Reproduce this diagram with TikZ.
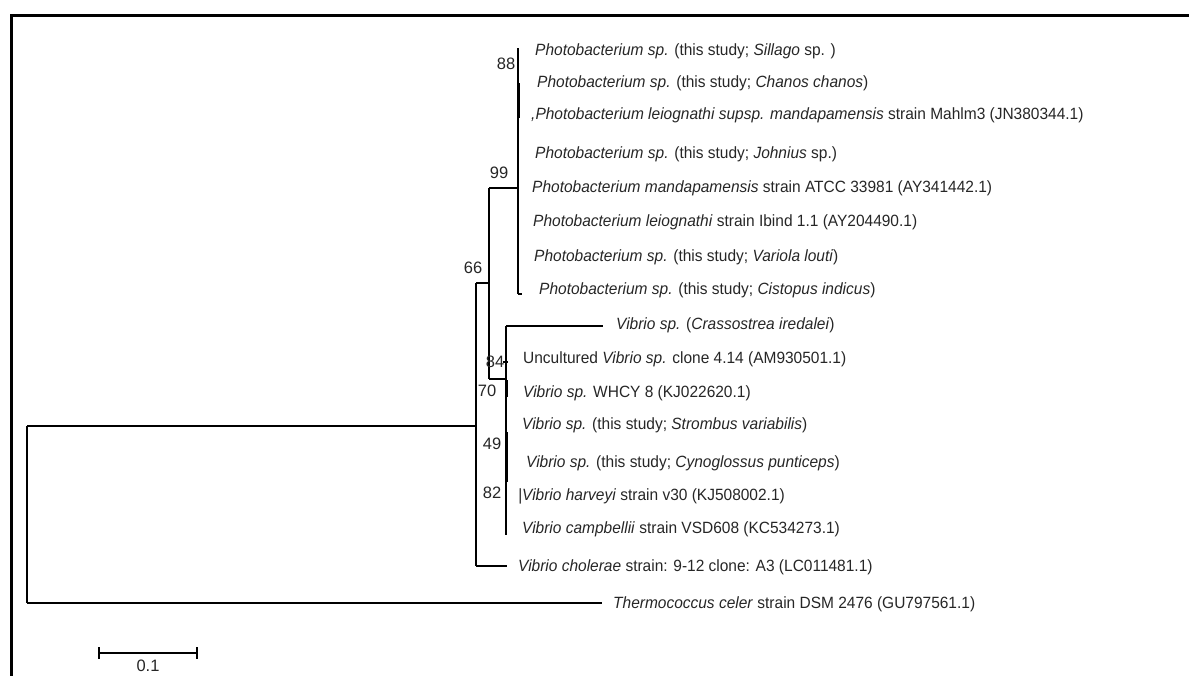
\documentclass[tikz,border=0pt]{standalone}
\usepackage{fontspec}
\newfontfamily\labfont[FakeStretch=0.95]{Liberation Sans}
\newfontfamily\numfont{Liberation Sans}
\tikzset{
  branch/.style={line width=1.3pt, black},
  thick branch/.style={line width=3pt, black},
  frameline/.style={line width=3pt, black},
  leaf/.style={anchor=west, inner sep=0pt, font=\labfont\fontsize{16.3}{18}\selectfont, text height=12pt, text depth=3.5pt, text=black!85},
  boot/.style={anchor=center, inner sep=0pt, font=\numfont\fontsize{16.5}{19}\selectfont, text=black!85},
}
\begin{document}
\begin{tikzpicture}[x=1pt,y=-1pt]
\useasboundingbox (0,0) rectangle (1189,675);
% frame
\coordinate (f1) at (11,680);
\coordinate (f2) at (11,15);
\coordinate (f3) at (1195,15);
\draw[frameline] (f1) -- (f2) -- (f3);

% internal nodes
\coordinate (root-t) at (27,426);
\coordinate (root-b) at (27,603);
\coordinate (n66-t) at (476,283);
\coordinate (n66-m) at (476,426);
\coordinate (n66-b) at (476,566);
\coordinate (n1-t) at (489,188);
\coordinate (n1-m) at (489,283);
\coordinate (n1-b) at (489,379);
\coordinate (ph-t) at (518,48);
\coordinate (ph-m) at (518,188);
\coordinate (ph-b) at (518,294);
\coordinate (vb-t) at (506,326);
\coordinate (vb-m) at (506,379);
\coordinate (vb-b) at (506,535);

% leaves
\node[leaf] (l1) at (535,51) {\textit{Photobacterium sp.} (this study; \textit{Sillago} sp. )};
\node[leaf] (l2) at (537,83) {\textit{Photobacterium sp.} (this study; \textit{Chanos chanos})};
\node[leaf] (l3) at (531,115) {\textit{,Photobacterium leiognathi supsp. mandapamensis} strain Mahlm3 (JN380344.1)};
\node[leaf] (l4) at (535,154) {\textit{Photobacterium sp.} (this study; \textit{Johnius} sp.)};
\node[leaf] (l5) at (532,188) {\textit{Photobacterium mandapamensis} strain ATCC 33981 (AY341442.1)};
\node[leaf] (l6) at (533,222) {\textit{Photobacterium leiognathi} strain Ibind 1.1 (AY204490.1)};
\node[leaf] (l7) at (534,257) {\textit{Photobacterium sp.} (this study; \textit{Variola louti})};
\node[leaf] (l8) at (539,290) {\textit{Photobacterium sp.} (this study; \textit{Cistopus indicus})};
\node[leaf] (l9) at (616,325) {\textit{Vibrio sp.} (\textit{Crassostrea iredalei})};
\node[leaf] (l10) at (523,359) {Uncultured \textit{Vibrio sp.} clone 4.14 (AM930501.1)};
\node[leaf] (l11) at (523,393) {\textit{Vibrio sp.} WHCY 8 (KJ022620.1)};
\node[leaf] (l12) at (522,425) {\textit{Vibrio sp.} (this study; \textit{Strombus variabilis})};
\node[leaf] (l13) at (526,463) {\textit{Vibrio sp.} (this study; \textit{Cynoglossus punticeps})};
\node[leaf] (l14) at (518,496) {\textit{\textbar Vibrio harveyi} strain v30 (KJ508002.1)};
\node[leaf] (l15) at (522,529) {\textit{Vibrio campbellii} strain VSD608 (KC534273.1)};
\node[leaf] (l16) at (518,567) {\textit{Vibrio cholerae} strain: 9-12 clone: A3 (LC011481.1)};
\node[leaf] (l17) at (613,604) {\textit{Thermococcus celer} strain DSM 2476 (GU797561.1)};

% tips
\coordinate (t9) at (603,326);
\coordinate (t16) at (507,566);
\coordinate (t17) at (602,603);

% branches
\draw[branch] (root-t) -- (root-b);
\draw[branch] (root-t) -- (n66-m);
\draw[branch] (root-b) -- (t17);
\draw[branch] (n66-t) -- (n66-b);
\draw[branch] (n66-b) -- (t16);
\draw[branch] (n66-t) -- (n1-m);
\draw[branch] (n1-t) -- (n1-b);
\draw[branch] (n1-t) -- (ph-m);
\draw[branch] (n1-b) -- (vb-m);
\draw[branch] (ph-t) -- (ph-b);
\draw[branch] (ph-b) -- ++(4,0);
\draw[thick branch] (518,83) -- (518,118);
\draw[branch] (vb-t) -- (vb-b);
\draw[branch] (vb-t) -- (t9);
\draw[branch] (503,362) -- (508,362);
\draw[thick branch] (506,380) -- (506,397);
\draw[thick branch] (506,432) -- (506,482);

% bootstrap values
\node[boot] (b88) at (506,64) {88};
\node[boot] (b99) at (499,173) {99};
\node[boot] (b66) at (473,268) {66};
\node[boot] (b84) at (495,362) {84};
\node[boot] (b70) at (487,391) {70};
\node[boot] (b49) at (492,444) {49};
\node[boot] (b82) at (492,493) {82};

% scale bar
\coordinate (s1) at (99,653);
\coordinate (s2) at (197,653);
\draw[branch] (s1) -- (s2);
\draw[branch] (99,647) -- (99,659);
\draw[branch] (197,647) -- (197,659);
\node[boot] (sl) at (148,666) {0.1};
\end{tikzpicture}
\end{document}
